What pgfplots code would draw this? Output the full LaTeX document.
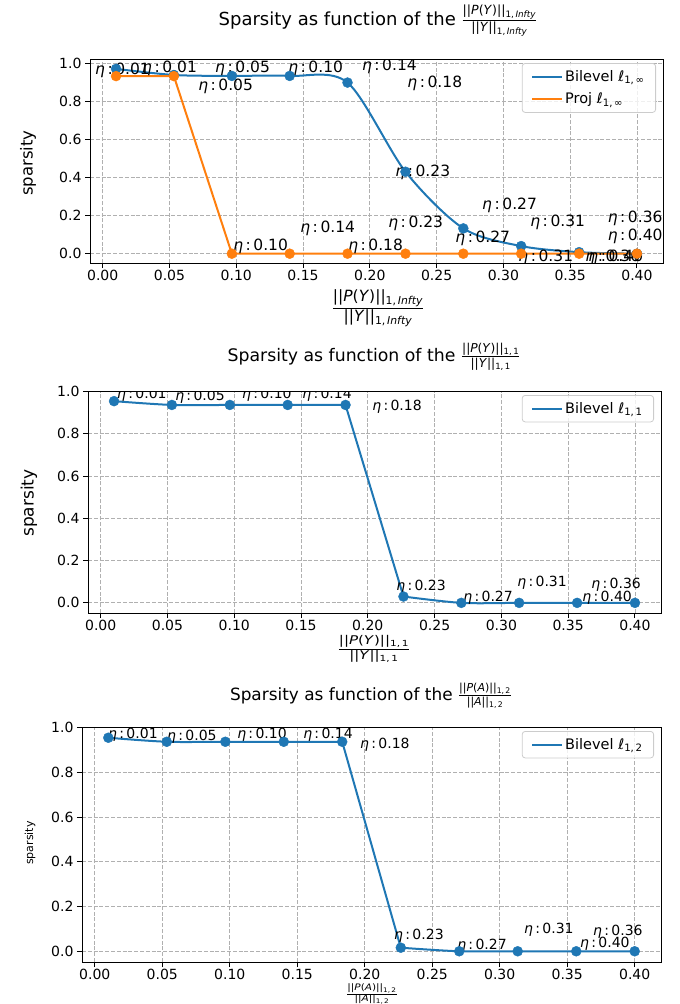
\documentclass[border=0pt]{standalone}
\usepackage{fontspec}
\setmainfont{DejaVu Sans}
\usepackage{amsmath}
\usepackage{pgfplots}
\pgfplotsset{compat=1.18}

\definecolor{mblue}{HTML}{1F77B4}
\definecolor{morange}{HTML}{FF7F0E}
\definecolor{gridc}{HTML}{B0B0B0}

\newcommand{\fs}[1]{\fontsize{#1}{#1}\selectfont}
\newcommand{\et}[1]{\textit{η}\,:\,#1}
\newcommand{\fr}[3]{$\genfrac{}{}{0.9pt}{}{\hbox{\fs{#1}#2}}{\hbox{\fs{#1}#3}}$}

\pgfplotsset{
  common/.style={
    scale only axis,
    xmin=-0.0095, xmax=0.4195,
    xtick={0,0.05,0.10,0.15,0.20,0.25,0.30,0.35,0.40},
    ytick={0,0.2,0.4,0.6,0.8,1.0},
    x tick label style={/pgf/number format/.cd,fixed,fixed zerofill,precision=2,/tikz/.cd, inner sep=1.5pt},
    y tick label style={/pgf/number format/.cd,fixed,fixed zerofill,precision=1,/tikz/.cd},
    /pgf/number format/assume math mode=true,
    tick label style={font=\fs{14}},
    tick align=outside,
    xtick pos=lower, ytick pos=left,
    major tick length=5pt,
    tick style={black, line width=1pt},
    axis line style={black, line width=1pt},
    grid=major,
    major grid style={gridc, dash pattern=on 4pt off 1.8pt, line width=0.9pt},
    legend cell align=left,
    legend style={at={(1,1)}, anchor=north east, xshift=-7pt, yshift=-4pt,
      draw=black!20, line width=0.8pt, rounded corners=3pt, fill=white,
      fill opacity=0.8, text opacity=1, font=\fs{14.5},
      inner xsep=9pt, inner ysep=5pt, row sep=6pt,
      /tikz/every even column/.append style={column sep=10pt}},
    legend image code/.code={\draw[#1, line width=2pt] (0pt,0pt) -- (30pt,0pt);},
  },
  ln/.style={line width=2pt},
  mk/.style={only marks, mark=*, mark size=5pt, forget plot},
}

\begin{document}
\begin{tikzpicture}
\path[use as bounding box] (0,0) rectangle (680pt,-1004pt);

% ---------------- Panel 1 ----------------
\begin{axis}[common, at={(90pt,-59pt)}, anchor=north west,
  width=573pt, height=204pt, ymin=-0.049, ymax=1.024]
\addplot[mblue, ln, smooth, tension=0.5] coordinates {
 (0.01,0.972) (0.0533,0.94) (0.0967,0.935) (0.14,0.935) (0.1833,0.90)
 (0.2267,0.431) (0.27,0.133) (0.3133,0.040) (0.3567,0.008) (0.40,0.0)};
\addlegendentry{Bilevel ℓ\textsubscript{1,\,∞}}
\addplot[morange, ln, sharp plot] coordinates {
 (0.01,0.934) (0.0533,0.934) (0.0967,0.0) (0.14,0.0) (0.1833,0.0)
 (0.2267,0.0) (0.27,0.0) (0.3133,0.0) (0.3567,0.0) (0.40,0.0)};
\addlegendentry{Proj ℓ\textsubscript{1,\,∞}}
\addplot[mblue, mk] coordinates {
 (0.01,0.972) (0.0533,0.94) (0.0967,0.935) (0.14,0.935) (0.1833,0.90)
 (0.2267,0.431) (0.27,0.133) (0.3133,0.040) (0.3567,0.008) (0.40,0.0)};
\addplot[morange, mk] coordinates {
 (0.01,0.934) (0.0533,0.934) (0.0967,0.0) (0.14,0.0) (0.1833,0.0)
 (0.2267,0.0) (0.27,0.0) (0.3133,0.0) (0.3567,0.0) (0.40,0.0)};
\begin{scope}[every node/.style={anchor=west, inner sep=0pt, font=\fs{15.5}}]
\node at (axis cs:-0.0058,0.966) {\et{0.01}};
\node at (axis cs:0.0294,0.977) {\et{0.01}};
\node at (axis cs:0.0841,0.977) {\et{0.05}};
\node at (axis cs:0.0714,0.882) {\et{0.05}};
\node at (axis cs:0.1388,0.977) {\et{0.10}};
\node at (axis cs:0.1940,0.987) {\et{0.14}};
\node at (axis cs:0.2280,0.898) {\et{0.18}};
\node at (axis cs:0.2190,0.430) {\et{0.23}};
\node at (axis cs:0.2840,0.256) {\et{0.27}};
\node at (axis cs:0.3200,0.167) {\et{0.31}};
\node at (axis cs:0.3780,0.188) {\et{0.36}};
\node at (axis cs:0.3780,0.093) {\et{0.40}};
\node at (axis cs:0.0976,0.040) {\et{0.10}};
\node at (axis cs:0.1478,0.135) {\et{0.14}};
\node at (axis cs:0.1837,0.040) {\et{0.18}};
\node at (axis cs:0.2137,0.161) {\et{0.23}};
\node at (axis cs:0.2639,0.082) {\et{0.27}};
\node at (axis cs:0.3111,-0.017) {\et{0.31}};
\node at (axis cs:0.3613,-0.017) {\et{0.36}};
\node at (axis cs:0.3635,-0.017) {\et{0.40}};
\end{scope}
\end{axis}

% ---------------- Panel 2 ----------------
\begin{axis}[common, at={(88pt,-391pt)}, anchor=north west,
  width=573pt, height=222pt, ymin=-0.048, ymax=1.003]
\addplot[mblue, ln, smooth, tension=0.5] coordinates {
 (0.01,0.955) (0.0533,0.937) (0.0967,0.937) (0.14,0.937) (0.1833,0.937)};
\addlegendentry{Bilevel ℓ\textsubscript{1,\,1}}
\addplot[mblue, ln, sharp plot, forget plot] coordinates {
 (0.1833,0.937) (0.2267,0.03)};
\addplot[mblue, ln, smooth, tension=0.5, forget plot] coordinates {
 (0.2267,0.03) (0.27,0.0) (0.3133,0.0) (0.3567,0.0) (0.40,0.0)};
\addplot[mblue, mk] coordinates {
 (0.01,0.955) (0.0533,0.937) (0.0967,0.937) (0.14,0.937) (0.1833,0.937)
 (0.2267,0.03) (0.27,0.0) (0.3133,0.0) (0.3567,0.0) (0.40,0.0)};
\begin{scope}[every node/.style={anchor=west, inner sep=0pt, font=\fs{14}}]
\node at (axis cs:0.0122,0.985) {\et{0.01}};
\node at (axis cs:0.0557,0.976) {\et{0.05}};
\node at (axis cs:0.1058,0.985) {\et{0.10}};
\node at (axis cs:0.1508,0.985) {\et{0.14}};
\node at (axis cs:0.2032,0.928) {\et{0.18}};
\node at (axis cs:0.2212,0.075) {\et{0.23}};
\node at (axis cs:0.2714,0.023) {\et{0.27}};
\node at (axis cs:0.3118,0.094) {\et{0.31}};
\node at (axis cs:0.3673,0.085) {\et{0.36}};
\node at (axis cs:0.3605,0.023) {\et{0.40}};
\end{scope}
\end{axis}

% ---------------- Panel 3 ----------------
\begin{axis}[common, at={(82pt,-727pt)}, anchor=north west,
  width=579pt, height=235pt, ymin=-0.048, ymax=1.003]
\addplot[mblue, ln, smooth, tension=0.5] coordinates {
 (0.01,0.955) (0.0533,0.937) (0.0967,0.937) (0.14,0.937) (0.1833,0.937)};
\addlegendentry{Bilevel ℓ\textsubscript{1,\,2}}
\addplot[mblue, ln, sharp plot, forget plot] coordinates {
 (0.1833,0.937) (0.2267,0.016)};
\addplot[mblue, ln, smooth, tension=0.5, forget plot] coordinates {
 (0.2267,0.016) (0.27,0.0) (0.3133,0.0) (0.3567,0.0) (0.40,0.0)};
\addplot[mblue, mk] coordinates {
 (0.01,0.955) (0.0533,0.937) (0.0967,0.937) (0.14,0.937) (0.1833,0.937)
 (0.2267,0.016) (0.27,0.0) (0.3133,0.0) (0.3567,0.0) (0.40,0.0)};
\begin{scope}[every node/.style={anchor=west, inner sep=0pt, font=\fs{14}}]
\node at (axis cs:0.0098,0.967) {\et{0.01}};
\node at (axis cs:0.0535,0.958) {\et{0.05}};
\node at (axis cs:0.1054,0.967) {\et{0.10}};
\node at (axis cs:0.1543,0.967) {\et{0.14}};
\node at (axis cs:0.1965,0.922) {\et{0.18}};
\node at (axis cs:0.2217,0.068) {\et{0.23}};
\node at (axis cs:0.2684,0.024) {\et{0.27}};
\node at (axis cs:0.3180,0.095) {\et{0.31}};
\node at (axis cs:0.3691,0.086) {\et{0.36}};
\node at (axis cs:0.3595,0.032) {\et{0.40}};
\end{scope}
\end{axis}

% ---------------- Titles ----------------
\node[anchor=base, inner sep=0pt, font=\fs{18}] at (378pt,-25pt)
 {Sparsity as function of the \fr{12.6}{||\textit{P}(\textit{Y})||\textsubscript{1,\,\textit{Infty}}}{||\textit{Y}||\textsubscript{1,\,\textit{Infty}}}};
\node[anchor=base, inner sep=0pt, font=\fs{17.3}] at (374pt,-361pt)
 {Sparsity as function of the \fr{12.2}{||\textit{P}(\textit{Y})||\textsubscript{1,\,1}}{||\textit{Y}||\textsubscript{1,\,1}}};
\node[anchor=base, inner sep=0pt, font=\fs{16.9}] at (371pt,-700pt)
 {Sparsity as function of the \fr{11}{||\textit{P}(\textit{A})||\textsubscript{1,\,2}}{||\textit{A}||\textsubscript{1,\,2}}};

% ---------------- X labels ----------------
\node[inner sep=0pt] at (378pt,-308pt)
 {\fr{15.5}{||\textit{P}(\textit{Y})||\textsubscript{1,\,\textit{Infty}}}{||\textit{Y}||\textsubscript{1,\,\textit{Infty}}}};
\node[inner sep=0pt] at (374pt,-649pt)
 {\scalebox{1}[0.8]{\fr{15}{||\textit{P}(\textit{Y})||\textsubscript{1,\,1}}{||\textit{Y}||\textsubscript{1,\,1}}}};
\node[inner sep=0pt] at (372pt,-994pt)
 {\scalebox{1}[0.85]{\fr{10.5}{||\textit{P}(\textit{A})||\textsubscript{1,\,2}}{||\textit{A}||\textsubscript{1,\,2}}}};

% ---------------- Y labels ----------------
\node[rotate=90, inner sep=0pt, font=\fs{16.5}] at (28pt,-163pt) {sparsity};
\node[rotate=90, inner sep=0pt, font=\fs{17}] at (29pt,-503pt) {sparsity};
\node[rotate=90, inner sep=0pt, font=\fs{11}] at (30pt,-843pt) {sparsity};
\end{tikzpicture}
\end{document}
